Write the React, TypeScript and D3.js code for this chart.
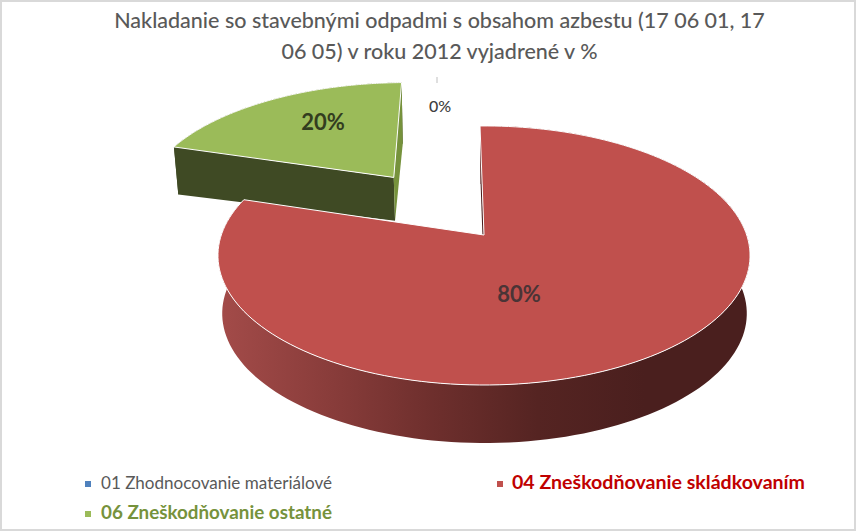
import React from "react";
import * as d3 from "d3";

const categories = ["01 Zhodnocovanie materiálové", "04 Zneškodňovanie skládkovaním", "06 Zneškodňovanie ostatné"];
const values = [0, 80, 20];
const labels = ["0%", "80%", "20%"];
const titleLines = ["Nakladanie so stavebnými odpadmi s obsahom azbestu (17 06 01, 17", "06 05) v roku 2012 vyjadrené v %"];

const FONT = "Lato, Carlito, 'Open Sans', sans-serif";
const rot = (-1 * Math.PI) / 180;
type Plane = { x0: number; y0: number; r: number; s: number; kx: number; ky: number };
const topPlane: Plane = { x0: 484, y0: 235, r: 262.7, s: 126.3, kx: 0.158, ky: 0.158 };
const greenBottom: Plane = { x0: 484, y0: 273.9, r: 259, s: 123, kx: 0.158, ky: 0.275 };
const redBottom: Plane = { x0: 484.5, y0: 293, r: 259, s: 126.3, kx: 0.158, ky: 0.158 };

const project = (p: Plane, u: number, v: number): [number, number] => [
  p.x0 + (p.r * u) / (1 - p.kx * v),
  p.y0 + (p.s * v) / (1 - p.ky * v),
];
const line = d3.line<[number, number]>();

export default function App() {
  const pie = d3.pie<number>().sort(null)(values);
  const red = pie[1];
  const green = pie[2];
  const mid = (green.startAngle + green.endAngle) / 2 + rot;
  const ox = 0.615 * Math.sin(mid);
  const oy = -0.615 * Math.cos(mid);

  const rim = (p: Plane, a0: number, a1: number, dx = 0, dy = 0): [number, number][] => {
    const a = d3.scaleLinear().domain([0, 160]).range([a0 + rot, a1 + rot]);
    return d3.range(161).map((i) => project(p, dx + Math.sin(a(i)), dy - Math.cos(a(i))));
  };
  const face = (a0: number, a1: number, dx = 0, dy = 0) =>
    line([project(topPlane, dx, dy), ...rim(topPlane, a0, a1, dx, dy)]) + "Z";
  const wall = (b: Plane, a0: number, a1: number, dx = 0, dy = 0) =>
    line([...rim(topPlane, a0, a1, dx, dy), ...rim(b, a0, a1, dx, dy).reverse()]) + "Z";
  const cut = (b: Plane, a: number, dx = 0, dy = 0) =>
    line([
      project(topPlane, dx, dy),
      project(topPlane, dx + Math.sin(a + rot), dy - Math.cos(a + rot)),
      project(b, dx + Math.sin(a + rot), dy - Math.cos(a + rot)),
      project(b, dx, dy),
    ]) + "Z";

  const shades = ["#a34b49", "#8a3d3b", "#6e2f2d", "#552422", "#4a1f1e", "#4a1f1e"];
  const offs = d3.scaleLinear().domain([0, shades.length - 1]).range([0, 100]);

  return (
    <svg width={856} height={531} style={{ position: "absolute", left: 0, top: 0, background: "#fff" }} fontFamily={FONT}>
      <defs>
        <linearGradient id="redWall" x1="220" x2="750" y1="0" y2="0" gradientUnits="userSpaceOnUse">
          {shades.map((c, i) => <stop key={i} offset={`${offs(i)}%`} stopColor={c} />)}
        </linearGradient>
      </defs>
      <rect x={1} y={1} width={854} height={529} fill="#fff" stroke="#d9d9d9" strokeWidth={2} />

      {titleLines.map((t, i) => (
        <text key={i} x={439.5} y={28 + i * 31} textAnchor="middle" fontSize={21.5} fontWeight={500} fill="#595959">{t}</text>
      ))}

      <path d={wall(greenBottom, green.startAngle, green.endAngle, ox, oy)} fill="#3f4a24" />
      <path d={cut(greenBottom, green.startAngle, ox, oy)} fill="#3f4a24" />
      <path d={cut(greenBottom, green.endAngle, ox, oy)} fill="#76923c" />
      <path d={face(green.startAngle, green.endAngle, ox, oy)} fill="#9bbb59" stroke="#fff" strokeWidth={1} />

      <path d={cut(redBottom, red.startAngle)} fill="#4a1f1e" />
      <path d={wall(redBottom, red.startAngle, red.endAngle)} fill="url(#redWall)" />
      <path d={face(red.startAngle, red.endAngle)} fill="#c0504d" stroke="#fff" strokeWidth={1} />

      <line x1={437} x2={437} y1={77} y2={83} stroke="#bfbfbf" strokeWidth={1} />
      <text x={440} y={112} textAnchor="middle" fontSize={16} fontWeight={500} fill="#404040">{labels[0]}</text>
      <text x={519} y={302} textAnchor="middle" fontSize={22} fontWeight={700} fill="#4a3436">{labels[1]}</text>
      <text x={323} y={130} textAnchor="middle" fontSize={22} fontWeight={700} fill="#333d1f">{labels[2]}</text>

      <rect x={85} y={481} width={6} height={6} fill="#4f81bd" />
      <text x={101} y={489} fontSize={17} textLength={231} lengthAdjust="spacingAndGlyphs" fill="#595959">{categories[0]}</text>
      <rect x={497} y={481} width={6} height={6} fill="#c0504d" />
      <text x={512} y={489} fontSize={18.5} fontWeight={700} textLength={293} lengthAdjust="spacingAndGlyphs" fill="#c00000">{categories[1]}</text>
      <rect x={85} y={511} width={6} height={6} fill="#9bbb59" />
      <text x={101} y={519} fontSize={18.5} fontWeight={700} textLength={231} lengthAdjust="spacingAndGlyphs" fill="#76923c">{categories[2]}</text>
    </svg>
  );
}
